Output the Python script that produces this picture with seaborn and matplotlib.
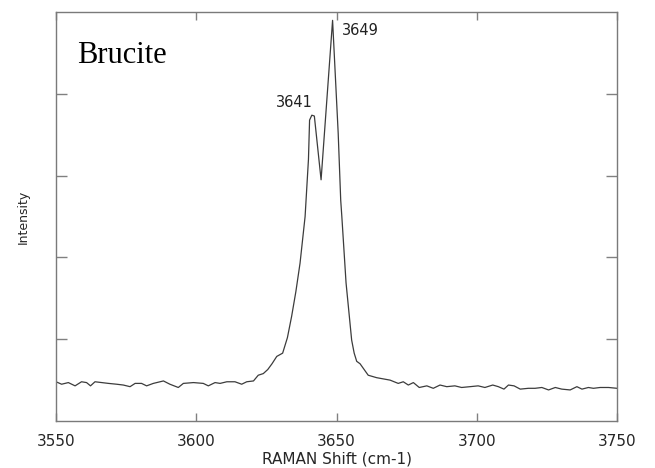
"""
Brucite Raman spectrum, OH-stretching region (3550-3750 cm-1).
"""
import pandas as pd
import matplotlib
matplotlib.use('Agg')
import matplotlib.pyplot as plt
import seaborn as sns

# ---- data ----
raman_shift = [
    3550.0, 3552.0, 3554.4, 3556.8, 3559.1, 3560.9, 3562.3, 3563.9, 3566.3, 3568.7,
    3571.6, 3574.0, 3576.4, 3578.2, 3580.5, 3582.3, 3584.7, 3588.3, 3590.6, 3593.6,
    3595.4, 3599.0, 3602.5, 3604.3, 3606.7, 3608.5, 3610.9, 3613.8, 3616.2, 3618.0,
    3620.4, 3622.1, 3623.9, 3625.5, 3627.0, 3628.7, 3630.8, 3632.5, 3634.0, 3635.5,
    3637.0, 3638.8, 3640.0, 3640.4, 3641.2, 3642.1, 3644.5, 3648.6, 3650.6, 3651.5,
    3651.9, 3653.4, 3655.4, 3656.3, 3657.2, 3658.4, 3661.3, 3664.3, 3669.1, 3672.0,
    3673.8, 3675.6, 3677.4, 3679.5, 3682.2, 3684.5, 3686.9, 3689.3, 3692.2, 3694.6,
    3697.6, 3700.5, 3702.9, 3705.7, 3707.7, 3709.7, 3711.3, 3713.3, 3715.5, 3718.4,
    3720.8, 3723.2, 3725.6, 3728.0, 3730.3, 3733.3, 3735.7, 3737.5, 3739.8, 3741.6,
    3744.0, 3747.0, 3750.0,
]
intensity = [
    0.48, 0.45, 0.47, 0.43, 0.48, 0.47, 0.43, 0.48, 0.47, 0.46,
    0.45, 0.44, 0.42, 0.46, 0.46, 0.43, 0.46, 0.49, 0.45, 0.41,
    0.46, 0.47, 0.46, 0.43, 0.47, 0.46, 0.48, 0.48, 0.45, 0.48,
    0.49, 0.56, 0.58, 0.63, 0.70, 0.79, 0.83, 1.02, 1.28, 1.58,
    1.93, 2.50, 3.20, 3.68, 3.74, 3.73, 2.95, 4.90, 3.52, 2.70,
    2.50, 1.69, 0.99, 0.83, 0.73, 0.70, 0.56, 0.53, 0.50, 0.46,
    0.48, 0.44, 0.47, 0.41, 0.43, 0.40, 0.44, 0.42, 0.43, 0.41,
    0.42, 0.43, 0.41, 0.44, 0.42, 0.39, 0.44, 0.43, 0.39, 0.40,
    0.40, 0.41, 0.38, 0.41, 0.39, 0.38, 0.42, 0.39, 0.41, 0.40,
    0.41, 0.41, 0.40,
]
x_ticks = [3550, 3600, 3650, 3700, 3750]
y_ticks = [1, 2, 3, 4]
peak_labels = ['3641', '3649']
peak_label_pos = [(3635.1, 3.89), (3658.6, 4.77)]

df = pd.DataFrame({'shift': raman_shift, 'intensity': intensity})

sns.set_style('white')
plt.rcParams['font.family'] = ['DejaVu Sans']

fig = plt.figure(figsize=(6.55, 4.68), dpi=100)
ax = fig.add_axes([0.0855, 0.1004, 0.8565, 0.8736])

sns.lineplot(data=df, x='shift', y='intensity', ax=ax, color='#3c3c3c', lw=0.9)

ax.set_xlim(3550, 3750)
ax.set_ylim(0, 5)
ax.set_xticks(x_ticks)
ax.set_yticks(y_ticks)
ax.tick_params(axis='x', direction='in', top=True, bottom=True, length=6,
               width=1, color='#808080', pad=9, labelsize=11)
ax.tick_params(axis='y', direction='in', left=True, right=True, length=8,
               width=1, color='#808080', labelleft=False)
for sp in ax.spines.values():
    sp.set_color('#7a7a7a')
    sp.set_linewidth(1.0)

ax.set_xlabel('RAMAN Shift (cm-1)', fontsize=11, labelpad=2)
ax.set_ylabel('Intensity', fontsize=9)
ax.yaxis.set_label_coords(-0.047, 0.5)

for lbl, (px, py) in zip(peak_labels, peak_label_pos):
    ax.text(px, py, lbl, fontsize=10.5, ha='center', va='center', color='#222222')

ax.text(3557.5, 4.38, 'Brucite', fontsize=22, family='Liberation Serif',
        ha='left', va='baseline', color='black')

plt.savefig('out.png', dpi=100)
plt.close()
